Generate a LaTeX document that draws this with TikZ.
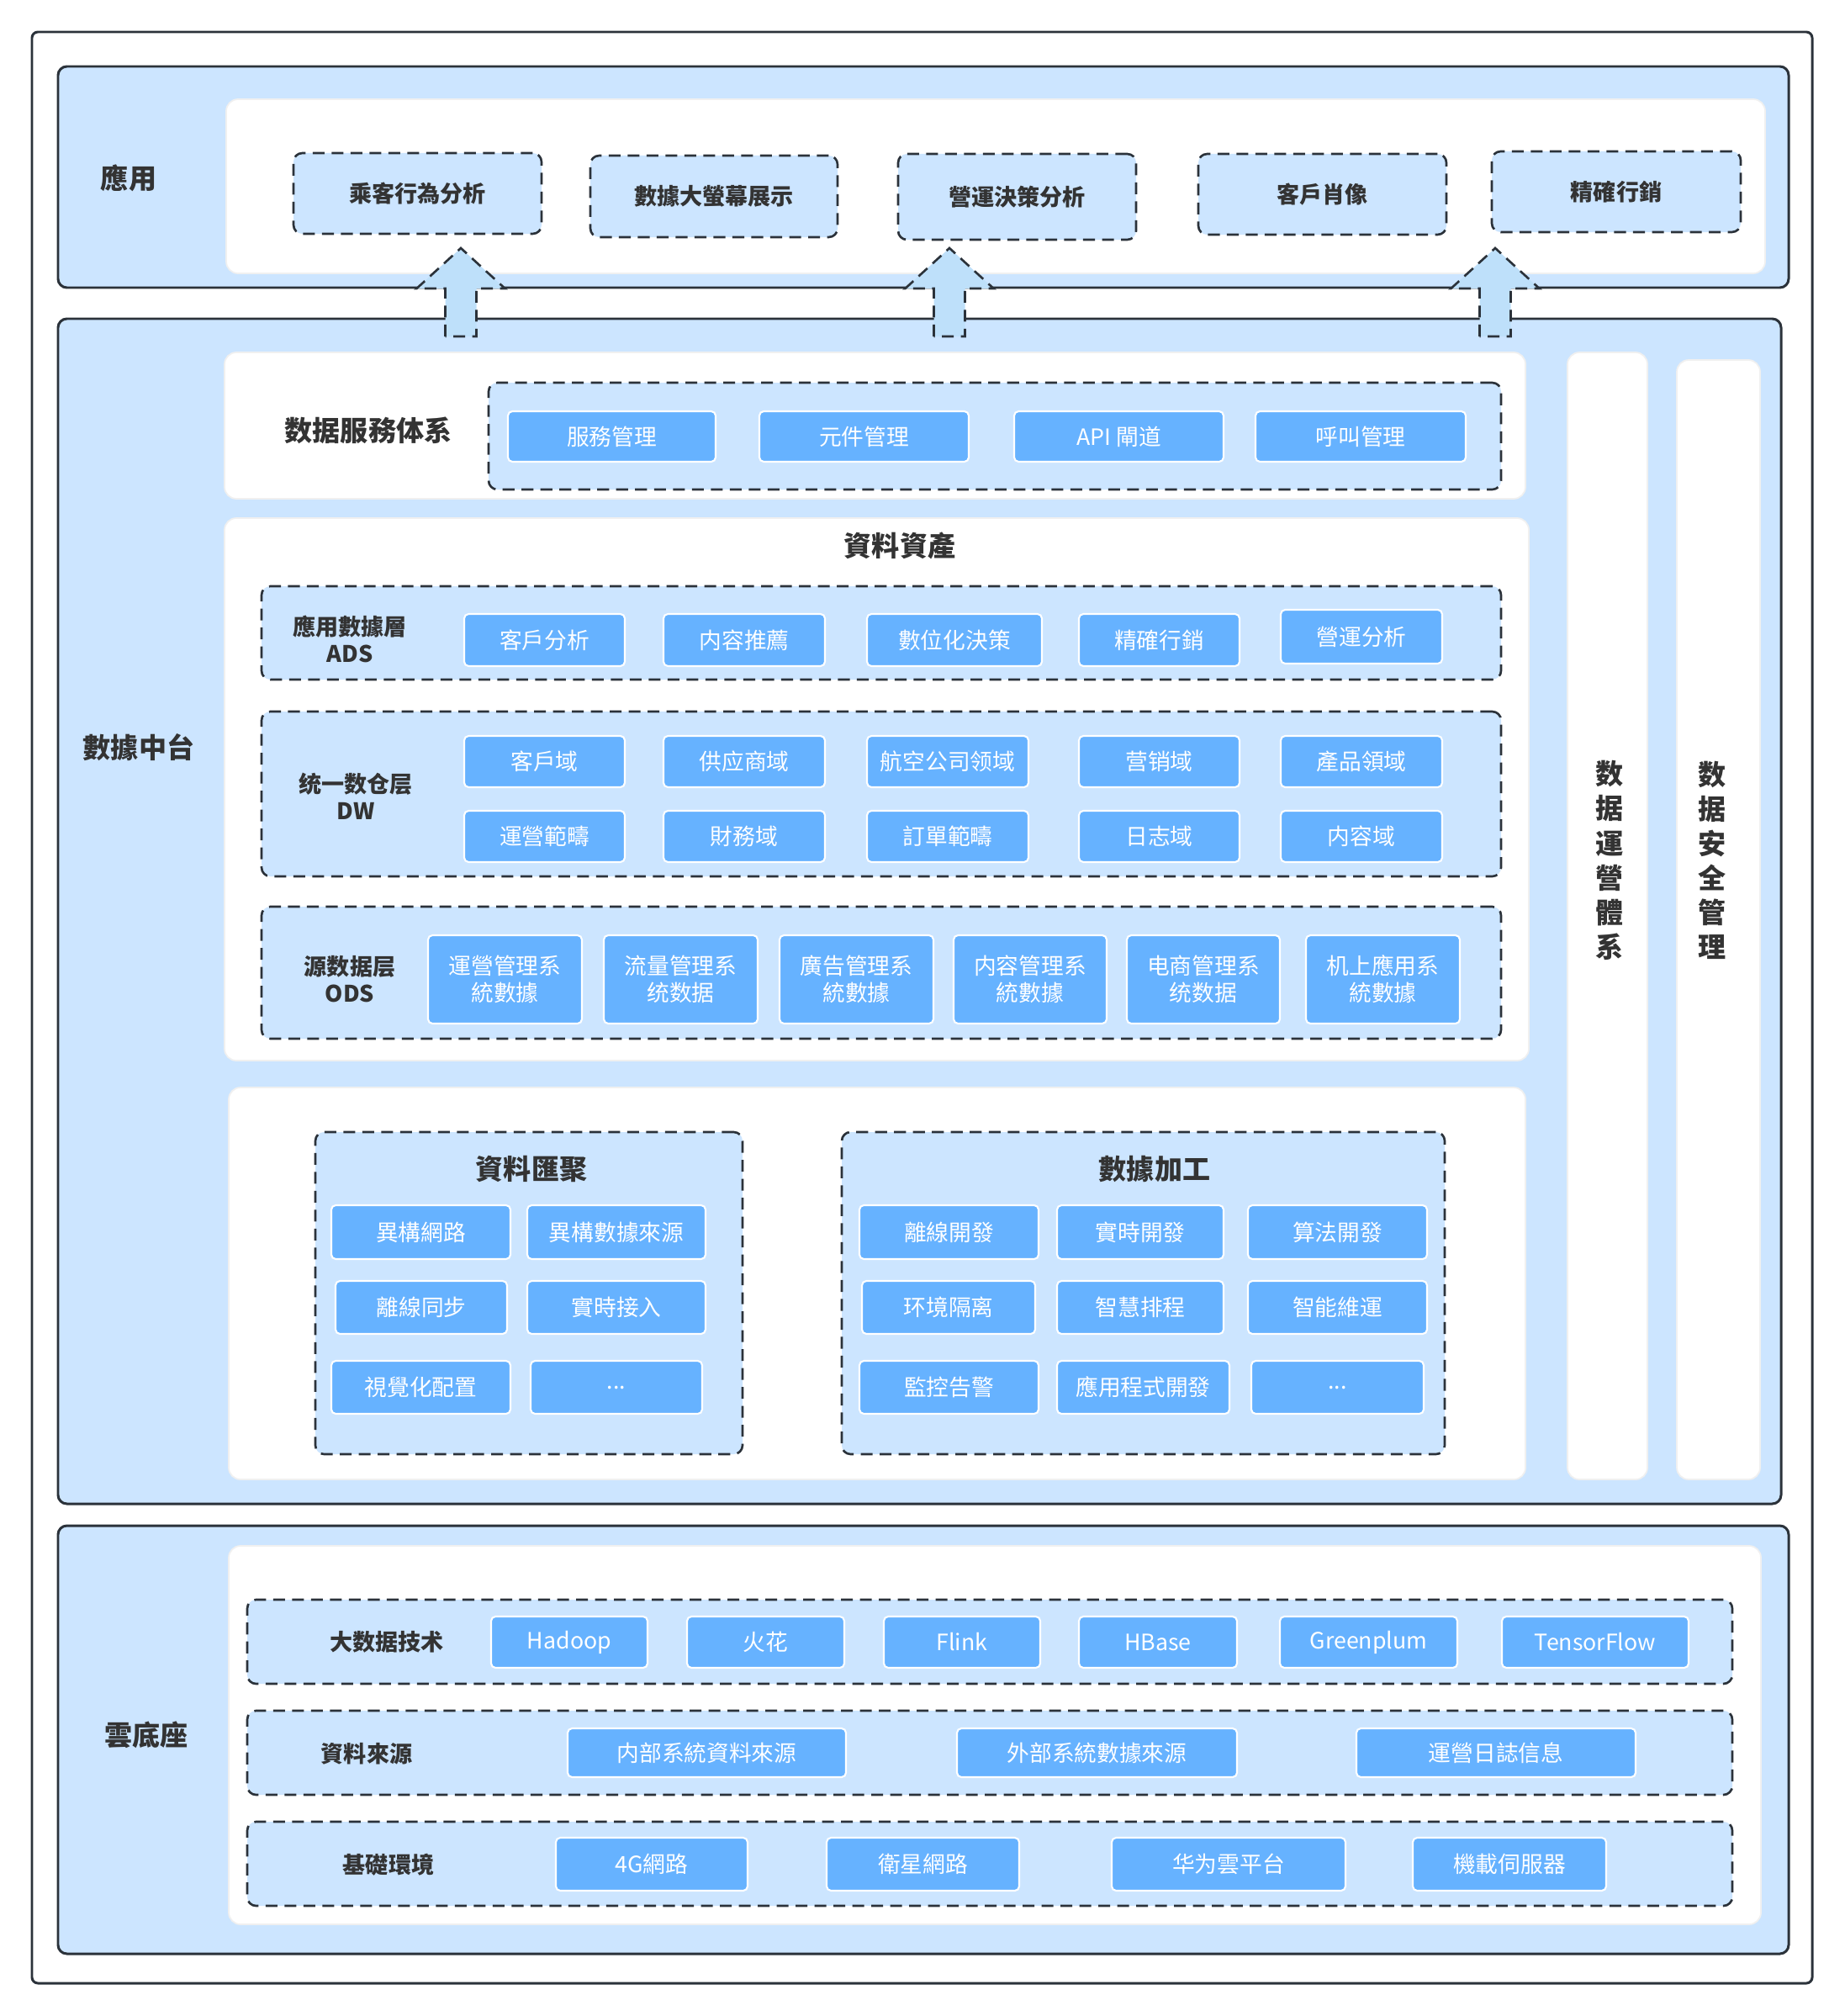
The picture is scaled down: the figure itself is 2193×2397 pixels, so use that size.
\documentclass[tikz,border=0pt]{standalone}
\usepackage{fontspec}
\setmainfont{Noto Sans CJK SC}
\definecolor{panelblue}{RGB}{204,229,255}
\definecolor{btnblue}{RGB}{102,178,255}
\definecolor{arrowblue}{RGB}{190,224,250}
\definecolor{edgedark}{RGB}{43,50,58}
\definecolor{labelgray}{RGB}{51,51,51}
\usepackage{tikz}
\usetikzlibrary{positioning,fit}

\tikzset{
  frame/.style={draw=edgedark, line width=0.85pt, rounded corners=2pt, inner sep=0pt},
  panel/.style={fill=panelblue, draw=edgedark, line width=0.85pt, rounded corners=3pt, inner sep=0pt},
  whitearea/.style={fill=white, draw=gray!12, line width=0.5pt, rounded corners=4pt, inner sep=0pt},
  dashbox/.style={fill=panelblue, draw=edgedark, line width=0.75pt, dash pattern=on 4pt off 2.4pt, rounded corners=3pt, inner sep=0pt},
  apptext/.style={text=labelgray, font=\fontsize{7.7}{9}\selectfont\bfseries, inner sep=0pt},
  btn/.style={fill=btnblue, draw=white, line width=0.6pt, rounded corners=1.5pt, inner sep=0pt},
  btntext/.style={text=white, font=\fontsize{7.6}{9.1}\selectfont, align=center, inner sep=0pt},
  biglabel/.style={text=labelgray, font=\fontsize{9.4}{11.7}\selectfont\bfseries, align=center},
  smalllabel/.style={text=labelgray, font=\fontsize{7.7}{9.2}\selectfont\bfseries, align=center},
  blockarrow/.style={fill=arrowblue, draw=edgedark, line width=0.75pt, dash pattern=on 4pt off 2.4pt, line join=miter},
}

\begin{document}
\begin{tikzpicture}[x=0.01cm, y=-0.01cm]
    \useasboundingbox (0,0) rectangle (2193,2397);
    \node[frame, fit={(38,38) (2155,2358)}] (outer) {};

    % Application layer
    \node[panel, fit={(69,79) (2127,342)}] (apppanel) {};
    \node[whitearea, fit={(269,118) (2099,325)}] (appwhite) {};
    \node[biglabel] (applabel) at (153,212) {應用};
    \node[dashbox, fit={(349,182) (644,278)}, label={[apptext]center:乘客行為分析}] (app1) {};
    \node[dashbox, fit={(702,185) (996,282)}, label={[apptext]center:數據大螢幕展示}] (app2) {};
    \node[dashbox, fit={(1068,183) (1351,285)}, label={[apptext]center:營運決策分析}] (app3) {};
    \node[dashbox, fit={(1425,183) (1720,279)}, label={[apptext]center:客戶肖像}] (app4) {};
    \node[dashbox, fit={(1774,180) (2070,276)}, label={[apptext]center:精確行銷}] (app5) {};

    % Data middle platform
    \node[panel, fit={(69,379) (2118,1788)}] (midpanel) {};
    \node[biglabel] (midlabel) at (165,889) {數據中台};
    \node[whitearea, fit={(267,419) (1814,593)}] (svcwhite) {};
    \node[whitearea, fit={(267,616) (1818,1261)}] (assetwhite) {};
    \node[whitearea, fit={(272,1293) (1814,1759)}] (procwhite) {};
    \node[whitearea, fit={(1864,419) (1959,1759)}] (opswhite) {};
    \node[whitearea, fit={(1994,428) (2093,1759)}] (secwhite) {};
    \node[biglabel] (opslabel) at (1914,1023) {数\\据\\運\\營\\體\\系};
    \node[biglabel] (seclabel) at (2036,1023) {数\\据\\安\\全\\管\\理};

    % Service system
    \node[biglabel] (svclabel) at (438,512) {数据服務体系};
    \node[dashbox, fit={(581,455) (1785,582)}] (svcbox) {};
    \node[btn, fit={(604,489) (851,549)}, label={[btntext]center:服務管理}] (svc1) {};
    \node[btn, fit={(903,489) (1152,549)}, label={[btntext]center:元件管理}] (svc2) {};
    \node[btn, fit={(1206,489) (1455,549)}, label={[btntext]center:API 閘道}] (svc3) {};
    \node[btn, fit={(1493,489) (1743,549)}, label={[btntext]center:呼叫管理}] (svc4) {};

    % Data assets
    \node[biglabel] (assetlabel) at (1070,649) {資料資產};
    \node[dashbox, fit={(311,697) (1785,808)}] (adsbox) {};
    \node[smalllabel] (adslabel) at (416,760) {應用數據層\\ADS};
    \node[btn, fit={(552,730) (743,792)}, label={[btntext]center:客戶分析}] (ads1) {};
    \node[btn, fit={(789,730) (981,792)}, label={[btntext]center:内容推薦}] (ads2) {};
    \node[btn, fit={(1031,730) (1239,792)}, label={[btntext]center:數位化決策}] (ads3) {};
    \node[btn, fit={(1283,730) (1474,792)}, label={[btntext]center:精確行銷}] (ads4) {};
    \node[btn, fit={(1523,725) (1715,789)}, label={[btntext]center:營運分析}] (ads5) {};

    \node[dashbox, fit={(311,846) (1785,1042)}] (dwbox) {};
    \node[smalllabel] (dwlabel) at (423,947) {统一数仓层\\DW};
    \node[btn, fit={(552,875) (743,936)}, label={[btntext]center:客戶域}] (dw1) {};
    \node[btn, fit={(789,875) (981,936)}, label={[btntext]center:供应商域}] (dw2) {};
    \node[btn, fit={(1031,875) (1223,936)}, label={[btntext]center:航空公司领域}] (dw3) {};
    \node[btn, fit={(1283,875) (1474,936)}, label={[btntext]center:营销域}] (dw4) {};
    \node[btn, fit={(1523,875) (1715,936)}, label={[btntext]center:產品領域}] (dw5) {};
    \node[btn, fit={(552,964) (743,1025)}, label={[btntext]center:運營範疇}] (dw6) {};
    \node[btn, fit={(789,964) (981,1025)}, label={[btntext]center:財務域}] (dw7) {};
    \node[btn, fit={(1031,964) (1223,1025)}, label={[btntext]center:訂單範疇}] (dw8) {};
    \node[btn, fit={(1283,964) (1474,1025)}, label={[btntext]center:日志域}] (dw9) {};
    \node[btn, fit={(1523,964) (1715,1025)}, label={[btntext]center:内容域}] (dw10) {};

    \node[dashbox, fit={(311,1078) (1785,1235)}] (odsbox) {};
    \node[smalllabel] (odslabel) at (416,1164) {源数据层\\ODS};
    \node[btn, fit={(509,1112) (692,1217)}, label={[btntext]center:運營管理系\\統數據}] (ods1) {};
    \node[btn, fit={(718,1112) (901,1217)}, label={[btntext]center:流量管理系\\统数据}] (ods2) {};
    \node[btn, fit={(927,1112) (1110,1217)}, label={[btntext]center:廣告管理系\\統數據}] (ods3) {};
    \node[btn, fit={(1134,1112) (1316,1217)}, label={[btntext]center:内容管理系\\統數據}] (ods4) {};
    \node[btn, fit={(1340,1112) (1522,1217)}, label={[btntext]center:电商管理系\\统数据}] (ods5) {};
    \node[btn, fit={(1553,1112) (1736,1217)}, label={[btntext]center:机上應用系\\統數據}] (ods6) {};

    % Aggregation and processing
    \node[dashbox, fit={(375,1346) (883,1729)}] (aggbox) {};
    \node[biglabel] (agglabel) at (632,1390) {資料匯聚};
    \node[btn, fit={(394,1433) (607,1497)}, label={[btntext]center:異構網路}] (agg1) {};
    \node[btn, fit={(627,1433) (839,1497)}, label={[btntext]center:異構數據來源}] (agg2) {};
    \node[btn, fit={(399,1523) (603,1586)}, label={[btntext]center:離線同步}] (agg3) {};
    \node[btn, fit={(627,1523) (839,1586)}, label={[btntext]center:實時接入}] (agg4) {};
    \node[btn, fit={(394,1618) (607,1681)}, label={[btntext]center:視覺化配置}] (agg5) {};
    \node[btn, fit={(631,1618) (835,1681)}, label={[btntext]center:...}] (agg6) {};

    \node[dashbox, fit={(1001,1346) (1718,1729)}] (procbox) {};
    \node[biglabel] (proclabel) at (1373,1390) {數據加工};
    \node[btn, fit={(1022,1433) (1235,1497)}, label={[btntext]center:離線開發}] (proc1) {};
    \node[btn, fit={(1257,1433) (1455,1497)}, label={[btntext]center:實時開發}] (proc2) {};
    \node[btn, fit={(1484,1433) (1697,1497)}, label={[btntext]center:算法開發}] (proc3) {};
    \node[btn, fit={(1025,1523) (1231,1586)}, label={[btntext]center:环境隔离}] (proc4) {};
    \node[btn, fit={(1257,1523) (1455,1586)}, label={[btntext]center:智慧排程}] (proc5) {};
    \node[btn, fit={(1484,1523) (1697,1586)}, label={[btntext]center:智能維運}] (proc6) {};
    \node[btn, fit={(1022,1618) (1235,1681)}, label={[btntext]center:監控告警}] (proc7) {};
    \node[btn, fit={(1257,1618) (1462,1681)}, label={[btntext]center:應用程式開發}] (proc8) {};
    \node[btn, fit={(1488,1618) (1693,1681)}, label={[btntext]center:...}] (proc9) {};

    % Up arrows into the application layer
    \foreach \ax in {548,1129,1778}
        \draw[blockarrow] (\ax-18.5,400) -- (\ax-18.5,343) -- (\ax-52.5,343) -- (\ax,295)
            -- (\ax+52.5,343) -- (\ax+18.5,343) -- (\ax+18.5,400) -- cycle;

    % Cloud base
    \node[panel, fit={(69,1814) (2127,2323)}] (cloudpanel) {};
    \node[biglabel] (cloudlabel) at (174,2063) {雲底座};
    \node[whitearea, fit={(272,1838) (2094,2288)}] (cloudwhite) {};

    \node[dashbox, fit={(294,1902) (2060,2002)}] (techbox) {};
    \node[smalllabel] (techlabel) at (460,1952) {大数据技术};
    \node[btn, fit={(584,1922) (770,1983)}, label={[btntext]center:Hadoop}] (tech1) {};
    \node[btn, fit={(817,1922) (1004,1983)}, label={[btntext]center:火花}] (tech2) {};
    \node[btn, fit={(1051,1922) (1237,1983)}, label={[btntext]center:Flink}] (tech3) {};
    \node[btn, fit={(1283,1922) (1471,1983)}, label={[btntext]center:HBase}] (tech4) {};
    \node[btn, fit={(1522,1922) (1733,1983)}, label={[btntext]center:Greenplum}] (tech5) {};
    \node[btn, fit={(1786,1922) (2008,1983)}, label={[btntext]center:TensorFlow}] (tech6) {};

    \node[dashbox, fit={(294,2034) (2060,2134)}] (srcbox) {};
    \node[smalllabel] (srclabel) at (436,2085) {資料來源};
    \node[btn, fit={(675,2055) (1006,2113)}, label={[btntext]center:内部系統資料來源}] (src1) {};
    \node[btn, fit={(1138,2055) (1471,2113)}, label={[btntext]center:外部系統數據來源}] (src2) {};
    \node[btn, fit={(1613,2055) (1945,2113)}, label={[btntext]center:運營日誌信息}] (src3) {};

    \node[dashbox, fit={(294,2166) (2060,2266)}] (envbox) {};
    \node[smalllabel] (envlabel) at (462,2217) {基礎環境};
    \node[btn, fit={(661,2185) (889,2248)}, label={[btntext]center:4G網路}] (env1) {};
    \node[btn, fit={(983,2185) (1212,2248)}, label={[btntext]center:衛星網路}] (env2) {};
    \node[btn, fit={(1322,2185) (1600,2248)}, label={[btntext]center:华为雲平台}] (env3) {};
    \node[btn, fit={(1680,2185) (1910,2248)}, label={[btntext]center:機載伺服器}] (env4) {};
\end{tikzpicture}
\end{document}
